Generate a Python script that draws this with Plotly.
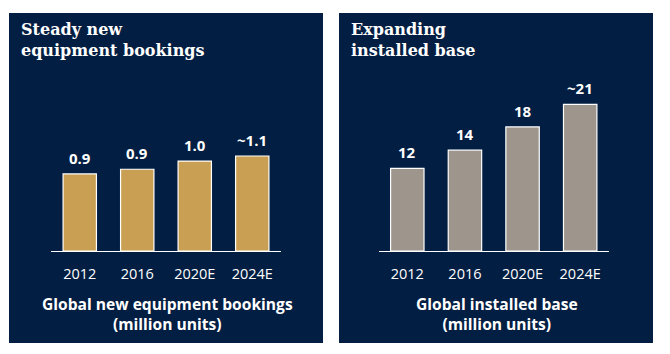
import plotly.graph_objects as go

W, H = 670, 354

# ---- data ----
years = ["2012", "2016", "2020E", "2024E"]
bookings = [0.90, 0.955, 1.05, 1.11]
bookings_labels = ["0.9", "0.9", "1.0", "~1.1"]
installed = [11.9, 14.5, 17.85, 21.1]
installed_labels = ["12", "14", "18", "~21"]

left_title = "Steady new<br>equipment bookings"
right_title = "Expanding<br>installed base"
left_xtitle = "Global new equipment bookings<br>(million units)"
right_xtitle = "Global installed base<br>(million units)"

NAVY = "#021E42"
GOLD = "#C9A053"
GRAY = "#9E968C"
WHITE = "#FFFFFF"
SANS = "'Open Sans', Lato, sans-serif"
SERIF = "'DejaVu Serif', serif"

def px(x):
    return x / W

def py(y):
    return (H - y) / H

fig = go.Figure()
fig.add_trace(go.Bar(x=years, y=bookings, marker=dict(color=GOLD, line=dict(color=WHITE, width=1.2)),
                     width=0.58, xaxis="x", yaxis="y", hoverinfo="skip"))
fig.add_trace(go.Bar(x=years, y=installed, marker=dict(color=GRAY, line=dict(color=WHITE, width=1.2)),
                     width=0.58, xaxis="x2", yaxis="y2", hoverinfo="skip"))

annotations = []
for xa, ya, vals, labs in (("x", "y", bookings, bookings_labels), ("x2", "y2", installed, installed_labels)):
    for i, (v, t) in enumerate(zip(vals, labs)):
        annotations.append(dict(x=i, y=v, xref=xa, yref=ya, text="<b>%s</b>" % t, showarrow=False,
                                yanchor="middle", yshift=16,
                                font=dict(family=SANS, size=15, color=WHITE)))

# panel titles
annotations.append(dict(x=px(19), y=py(18), xref="paper", yref="paper", xanchor="left", yanchor="top",
                        align="left", text="<b>%s</b>" % left_title, showarrow=False,
                        font=dict(family=SERIF, size=16, color=WHITE)))
annotations.append(dict(x=px(349), y=py(18), xref="paper", yref="paper", xanchor="left", yanchor="top",
                        align="left", text="<b>%s</b>" % right_title, showarrow=False,
                        font=dict(family=SERIF, size=16, color=WHITE)))
# axis captions
annotations.append(dict(x=px(167), y=py(314), xref="paper", yref="paper", xanchor="center", yanchor="middle",
                        align="center", text="<b>%s</b>" % left_xtitle, showarrow=False,
                        font=dict(family=SANS, size=15.6, color=WHITE)))
annotations.append(dict(x=px(497), y=py(314), xref="paper", yref="paper", xanchor="center", yanchor="middle",
                        align="center", text="<b>%s</b>" % right_xtitle, showarrow=False,
                        font=dict(family=SANS, size=15.6, color=WHITE)))

shapes = [
    dict(type="rect", xref="paper", yref="paper", x0=px(9), x1=px(323), y0=py(343), y1=py(13),
         fillcolor=NAVY, line=dict(width=0), layer="below"),
    dict(type="rect", xref="paper", yref="paper", x0=px(339), x1=px(653), y0=py(343), y1=py(13),
         fillcolor=NAVY, line=dict(width=0), layer="below"),
]

xcommon = dict(type="category", range=[-0.5, 3.5], showgrid=False, zeroline=False, showline=True,
               linecolor=WHITE, linewidth=1.2, ticks="outside", ticklen=9, tickcolor="rgba(0,0,0,0)",
               tickfont=dict(family=SANS, size=14.5, color=WHITE), fixedrange=True)
ycommon = dict(showgrid=False, zeroline=False, showline=False, showticklabels=False, fixedrange=True)

fig.update_layout(
    width=W, height=H, margin=dict(l=0, r=0, t=0, b=0),
    paper_bgcolor=WHITE, plot_bgcolor="rgba(0,0,0,0)",
    showlegend=False, bargap=0.42,
    xaxis=dict(domain=[px(51), px(281)], anchor="y", **xcommon),
    xaxis2=dict(domain=[px(378.5), px(609)], anchor="y2", **xcommon),
    yaxis=dict(domain=[py(251), py(13)], range=[0, 238 / 85.6], anchor="x", **ycommon),
    yaxis2=dict(domain=[py(251), py(13)], range=[0, 238 / 6.95], anchor="x2", **ycommon),
    annotations=annotations, shapes=shapes,
)

fig.write_html("out.html")
